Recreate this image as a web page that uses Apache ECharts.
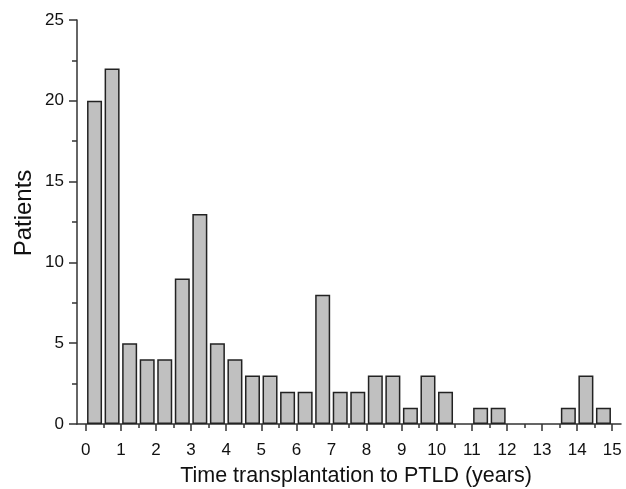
<!DOCTYPE html>
<html>
<head>
<meta charset="utf-8">
<script src="https://cdn.jsdelivr.net/npm/echarts@6/dist/echarts.min.js"></script>
<style>html,body{margin:0;padding:0;background:#fff;}#chart{width:626px;height:489px;}</style>
</head>
<body>
<div id="chart"></div>
<script>
// Histogram bins (half-year bins), centres in years
const binCenters = [0.25,0.75,1.25,1.75,2.25,2.75,3.25,3.75,4.25,4.75,5.25,5.75,6.25,6.75,7.25,7.75,8.25,8.75,9.25,9.75,10.25,10.75,11.25,11.75,12.25,12.75,13.25,13.75,14.25,14.75];
const patients   = [20,22,5,4,4,9,13,5,4,3,3,2,2,8,2,2,3,3,1,3,2,0,1,1,0,0,0,1,3,1];
const xTickValues = [0,1,2,3,4,5,6,7,8,9,10,11,12,13,14,15];
const xMinorTickValues = [0.5,1.5,2.5,3.5,4.5,5.5,6.5,7.5,8.5,9.5,10.5,11.5,12.5,13.5,14.5];
const xTitle = 'Time transplantation to PTLD (years)';
const yTitle = 'Patients';

const font = 'Arial, "Liberation Sans", Helvetica, sans-serif';
const axisColor = '#333';
const textColor = '#111';
const data = [];
binCenters.forEach((c, i) => { if (patients[i] > 0) data.push([c, patients[i]]); });

const chart = echarts.init(document.getElementById('chart'), null, {renderer: 'canvas'});
chart.setOption({
  animation: false,
  backgroundColor: '#fff',
  grid: {left: 77, right: 5, top: 20, bottom: 65, containLabel: false, outerBoundsMode: 'none'},
  xAxis: [{
    type: 'value', min: -0.25, max: 15.25,
    name: xTitle, nameLocation: 'middle', nameGap: 41, nameMoveOverlap: false,
    nameTextStyle: {fontFamily: font, fontSize: 21.5, color: textColor, padding: [0, 0, 0, 14]},
    axisLine: {show: true, onZero: false, lineStyle: {color: axisColor, width: 1.5}},
    axisTick: {show: true, customValues: xTickValues, length: 7, lineStyle: {color: axisColor, width: 1.5}},
    axisLabel: {show: true, customValues: xTickValues, margin: 18, fontFamily: font, fontSize: 17, color: textColor},
    splitLine: {show: false}
  }, {
    type: 'value', min: -0.25, max: 15.25, position: 'bottom',
    axisLine: {show: false},
    axisTick: {show: true, customValues: xMinorTickValues, length: 4, lineStyle: {color: axisColor, width: 1.5}},
    axisLabel: {show: false},
    splitLine: {show: false}
  }],
  yAxis: {
    type: 'value', min: 0, max: 25, interval: 5,
    name: yTitle, nameLocation: 'middle', nameGap: 41, nameMoveOverlap: false,
    nameTextStyle: {fontFamily: font, fontSize: 24, color: textColor, padding: [0, 0, 0, 18]},
    axisLine: {show: true, onZero: false, lineStyle: {color: axisColor, width: 1.5}},
    axisTick: {show: true, length: 8, lineStyle: {color: axisColor, width: 1.5}},
    minorTick: {show: true, splitNumber: 2, length: 5, lineStyle: {color: axisColor, width: 1.5}},
    axisLabel: {margin: 13, fontFamily: font, fontSize: 17, color: textColor},
    splitLine: {show: false}
  },
  series: [{
    type: 'bar', xAxisIndex: 0, barWidth: 15,
    data: data,
    itemStyle: {color: '#c0c0c0', borderColor: '#222', borderWidth: 1.5}
  }]
});
</script>
</body>
</html>
